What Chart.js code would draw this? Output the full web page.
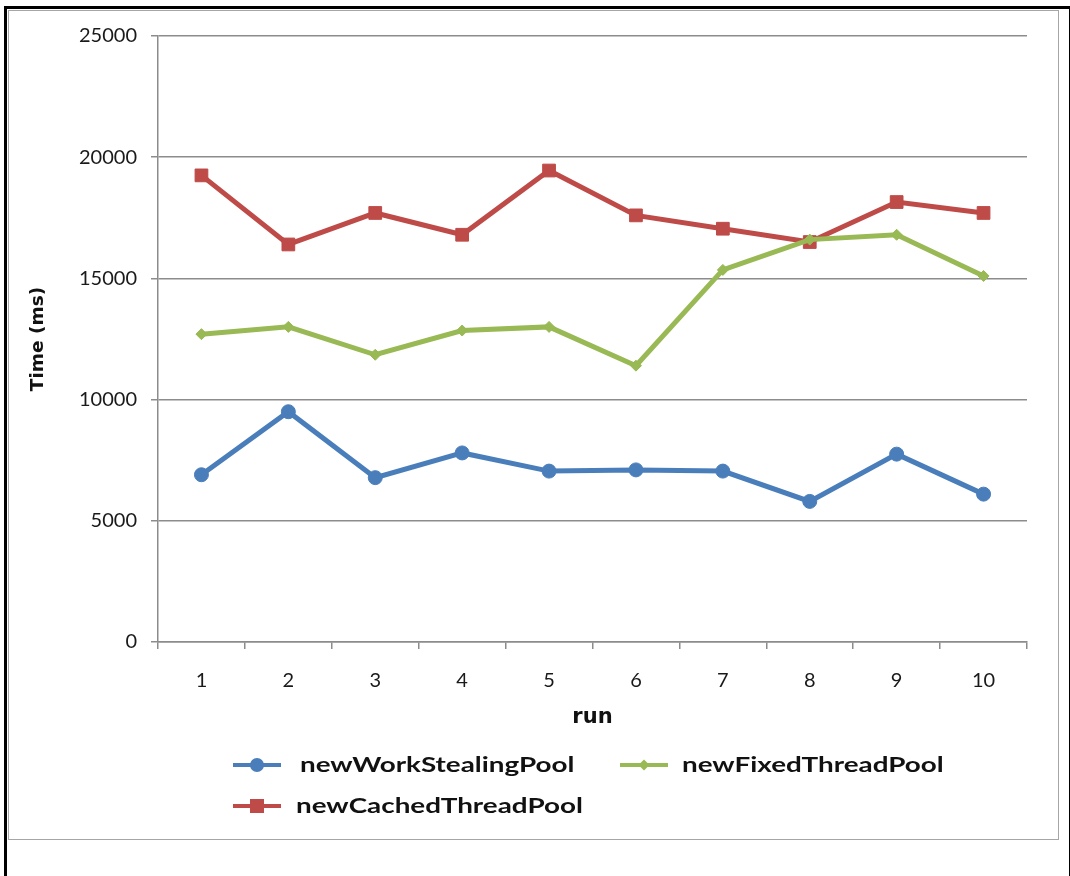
<!DOCTYPE html>
<html>
<head>
<meta charset="utf-8">
<script src="https://cdn.jsdelivr.net/npm/chart.js@4/dist/chart.umd.min.js"></script>
<style>
  html, body { margin: 0; padding: 0; background: #fff; }
  #wrap { position: relative; width: 1070px; height: 876px; overflow: hidden; background: #fff; }
  #frameOuter { position: absolute; left: 4px; top: 6px; width: 1062px; height: 900px; border: 3px solid #000; box-sizing: content-box; border-bottom: none; }
  #frameInner { position: absolute; left: 8px; top: 10px; width: 1049px; height: 828px; border: 1.5px solid #a6a6a6; }
  #chart { position: absolute; left: 0; top: 0; }
  .leg { position: absolute; font-family: Lato, "Open Sans", sans-serif; font-size: 21px; font-weight: 700; color: #111; white-space: nowrap; line-height: 1; }
  .leg svg { position: absolute; }
  .leg span { position: absolute; top: 0; transform-origin: 0 50%; transform: scaleX(1.325); }
</style>
</head>
<body>
<div id="wrap">
  <div id="frameOuter"></div>
  <div id="frameInner"></div>
  <canvas id="chart" width="1070" height="876"></canvas>
  <div id="legend"></div>
</div>
<script>
const categories = ['1', '2', '3', '4', '5', '6', '7', '8', '9', '10'];
const seriesNames = ['newWorkStealingPool', 'newFixedThreadPool', 'newCachedThreadPool'];
const workStealing = [6900, 9500, 6780, 7800, 7050, 7100, 7050, 5800, 7750, 6100];
const fixedThread = [12700, 13000, 11850, 12850, 13000, 11400, 15350, 16600, 16800, 15100];
const cachedThread = [19250, 16400, 17700, 16800, 19450, 17600, 17050, 16500, 18150, 17700];
const yTicks = [0, 5000, 10000, 15000, 20000, 25000];
const xTitle = 'run';
const yTitle = 'Time (ms)';

const colors = ['#4a7ebb', '#98b954', '#be4b48'];
const markers = ['circle', 'rectRot', 'rect'];
const radii = [7, 5.5, 9];

const seriesData = [workStealing, fixedThread, cachedThread];

const datasets = seriesData.map((d, i) => ({
  label: seriesNames[i],
  data: d,
  borderColor: colors[i],
  backgroundColor: colors[i],
  borderWidth: 5,
  pointStyle: markers[i],
  pointRadius: radii[i],
  pointBorderWidth: 1,
  pointBackgroundColor: colors[i],
  pointBorderColor: colors[i],
  tension: 0,
  fill: false
}));

const gridColor = '#8c8c8c';
const tickFont = { family: 'Lato, "Open Sans", sans-serif', size: 20 };

new Chart(document.getElementById('chart'), {
  type: 'line',
  data: { labels: categories, datasets },
  options: {
    responsive: false,
    animation: false,
    devicePixelRatio: 1,
    layout: { padding: { left: 0, top: 36, right: 43, bottom: 144 } },
    plugins: { legend: { display: false }, tooltip: { enabled: false } },
    scales: {
      x: {
        offset: true,
        grid: { offset: true, drawOnChartArea: false, color: gridColor, lineWidth: 1.5, tickLength: 7 },
        border: { color: gridColor, width: 1.5 },
        ticks: { font: tickFont, color: '#1a1a1a', padding: 20, maxRotation: 0 },
        title: { display: true, text: xTitle, font: { family: '"DejaVu Sans", sans-serif', size: 21, weight: 'bold' }, color: '#111', padding: { top: 4, bottom: 2 } },
        afterFit: (s) => { s.height = 90; }
      },
      y: {
        min: 0, max: 25000,
        afterBuildTicks: (s) => { s.ticks = yTicks.map(v => ({ value: v })); },
        grid: { color: gridColor, lineWidth: 1.5, tickLength: 7 },
        border: { color: gridColor, width: 1.5 },
        ticks: { font: tickFont, color: '#1a1a1a', padding: 14, callback: (v) => String(v) },
        title: { display: true, text: yTitle, font: { family: '"DejaVu Sans", sans-serif', size: 18.5, weight: 'bold' }, color: '#111', padding: { top: 27, bottom: 0 } },
        afterFit: (s) => { s.width = 158; }
      }
    }
  }
});

// Legend (HTML) built from the series
const legendPos = [
  { x: 233, y: 765, tx: 300 },
  { x: 620, y: 765, tx: 682 },
  { x: 233, y: 806, tx: 296 }
];
const legend = document.getElementById('legend');
seriesNames.forEach((name, i) => {
  const p = legendPos[i];
  const item = document.createElement('div');
  item.className = 'leg';
  item.style.left = p.x + 'px';
  item.style.top = (p.y - 12) + 'px';
  const w = 48;
  let mk = '';
  if (markers[i] === 'circle') mk = `<circle cx="${w/2}" cy="12" r="7" fill="${colors[i]}"/>`;
  else if (markers[i] === 'rect') mk = `<rect x="${w/2-7}" y="5" width="14" height="14" fill="${colors[i]}"/>`;
  else mk = `<polygon points="${w/2},6.5 ${w/2+5.5},12 ${w/2},17.5 ${w/2-5.5},12" fill="${colors[i]}"/>`;
  item.innerHTML = `<svg width="${w}" height="24" style="left:0;top:0"><line x1="0" y1="12" x2="${w}" y2="12" stroke="${colors[i]}" stroke-width="4"/>${mk}</svg>` +
    `<span style="left:${p.tx - p.x}px;">${name}</span>`;
  legend.appendChild(item);
});
</script>
</body>
</html>
